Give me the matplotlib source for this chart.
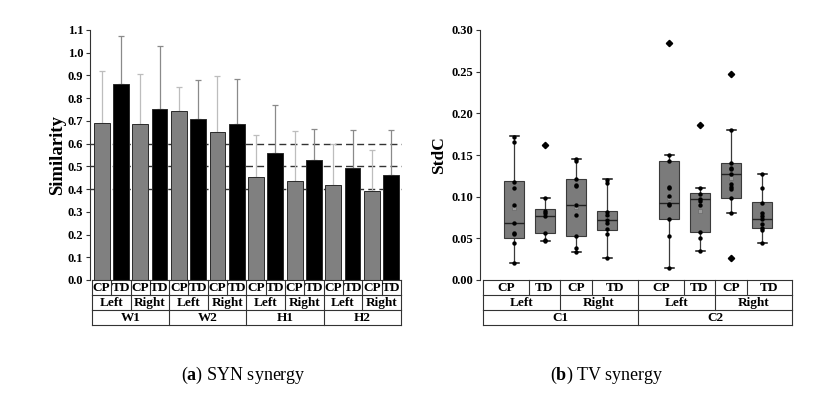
import numpy as np
import matplotlib
matplotlib.use("Agg")
import matplotlib.pyplot as plt
import matplotlib.transforms as mtransforms

plt.rcParams['font.family'] = ['Liberation Serif', 'DejaVu Serif']
plt.rcParams['mathtext.fontset'] = 'custom'
plt.rcParams['mathtext.rm'] = 'Liberation Serif'
plt.rcParams['mathtext.bf'] = 'Liberation Serif:bold'

# ---- (a) SYN synergy: mean similarity and SD per bar ----
muscles = ['W1', 'W2', 'H1', 'H2']
sides = ['Left', 'Right']
groups = ['CP', 'TD']
syn_mean = [0.689, 0.864, 0.688, 0.751,
            0.742, 0.707, 0.651, 0.688,
            0.452, 0.557, 0.437, 0.528,
            0.419, 0.491, 0.393, 0.463]
syn_sd = [0.231, 0.211, 0.217, 0.279,
          0.107, 0.173, 0.247, 0.195,
          0.185, 0.215, 0.217, 0.135,
          0.181, 0.169, 0.180, 0.197]
ref_lines = [0.4, 0.5, 0.6]

# ---- (b) TV synergy: box statistics and individual points ----
tv_labels = ['C1 Left CP', 'C1 Left TD', 'C1 Right CP', 'C1 Right TD',
             'C2 Left CP', 'C2 Left TD', 'C2 Right CP', 'C2 Right TD']
tv_q1 = [0.051, 0.057, 0.053, 0.060, 0.073, 0.058, 0.098, 0.063]
tv_med = [0.069, 0.077, 0.090, 0.072, 0.093, 0.097, 0.127, 0.073]
tv_q3 = [0.119, 0.085, 0.121, 0.083, 0.143, 0.104, 0.141, 0.094]
tv_lo = [0.021, 0.047, 0.034, 0.027, 0.014, 0.035, 0.081, 0.045]
tv_hi = [0.173, 0.099, 0.145, 0.121, 0.150, 0.110, 0.180, 0.127]
tv_mean = [0.086, 0.080, 0.088, 0.076, 0.098, 0.083, 0.122, 0.079]
tv_out = [[], [0.162], [], [], [0.285], [0.186], [0.247, 0.026], []]
tv_points = [
    [0.172, 0.166, 0.118, 0.110, 0.090, 0.068, 0.057, 0.055, 0.045, 0.021],
    [0.099, 0.083, 0.080, 0.077, 0.057, 0.048, 0.047],
    [0.145, 0.143, 0.121, 0.114, 0.113, 0.090, 0.078, 0.053, 0.038, 0.034],
    [0.120, 0.117, 0.082, 0.078, 0.072, 0.068, 0.061, 0.055, 0.027],
    [0.150, 0.143, 0.112, 0.110, 0.101, 0.091, 0.090, 0.073, 0.053, 0.014],
    [0.110, 0.103, 0.097, 0.095, 0.090, 0.058, 0.050, 0.035],
    [0.180, 0.141, 0.134, 0.133, 0.127, 0.115, 0.112, 0.109, 0.098, 0.081],
    [0.127, 0.110, 0.093, 0.080, 0.077, 0.073, 0.067, 0.063, 0.060, 0.045],
]
tv_pos = [34, 65, 96, 127, 189, 220, 251, 282]
tv_row1 = [3, 49, 80, 112, 158, 204, 235, 267, 312]
tv_row2 = [3, 80, 158, 235, 312]
tv_row3 = [3, 158, 312]
tv_conds = ['C1', 'C2']

fig = plt.figure(figsize=(8.34, 3.94), dpi=100)
axa = fig.add_axes([90 / 834, 114 / 394, 312 / 834, 250 / 394])
axb = fig.add_axes([480 / 834, 114 / 394, 312 / 834, 250 / 394])

tick_font = dict(fontsize=9, fontweight='bold')
row_h = 15 / 250


def draw_table(ax, rows, fs):
    # rows: list of (boundaries, labels) from top to bottom
    tr = mtransforms.blended_transform_factory(ax.transData, ax.transAxes)
    left, right = rows[0][0][0], rows[0][0][-1]
    for r, (bounds, labels) in enumerate(rows):
        y0, y1 = -r * row_h, -(r + 1) * row_h
        ax.plot([left, right], [y1, y1], color='#333333', lw=0.8,
                transform=tr, clip_on=False)
        for b in bounds:
            ax.plot([b, b], [y0, y1], color='#333333', lw=0.8,
                    transform=tr, clip_on=False)
        for k, lab in enumerate(labels):
            ax.text((bounds[k] + bounds[k + 1]) / 2, (y0 + y1) / 2 - 0.003, lab,
                    transform=tr, ha='center', va='center', fontsize=fs,
                    fontweight='bold', clip_on=False)
    ax.plot([left, right], [0, 0], color='#333333', lw=0.8,
            transform=tr, clip_on=False)


# ---------- panel (a) ----------
x = np.arange(len(syn_mean))
colors = ['#808080' if i % 2 == 0 else 'black' for i in x]
err_cols = ['#bdbdbd' if i % 2 == 0 else '#8a8a8a' for i in x]
for yv in ref_lines:
    axa.axhline(yv, color='#333333', lw=1.0, ls=(0, (5, 3)), zorder=0)
for i in x:
    axa.errorbar(i, syn_mean[i], yerr=[[0], [syn_sd[i]]], fmt='none',
                 ecolor=err_cols[i], elinewidth=0.9, capsize=2, capthick=0.9,
                 zorder=1)
axa.bar(x, syn_mean, width=0.82, color=colors, edgecolor='#2a2a2a',
        linewidth=0.7, zorder=2)
axa.set_xlim(-0.6, 15.56)
axa.set_ylim(0, 1.1)
axa.set_yticks(np.arange(0, 1.11, 0.1))
axa.set_yticklabels([f'{v:.1f}' for v in np.arange(0, 1.11, 0.1)], **tick_font)
axa.set_xticks([])
for s in ['top', 'right', 'bottom']:
    axa.spines[s].set_visible(False)
axa.spines['left'].set_color('#333333')
axa.tick_params(axis='y', length=3, width=0.8, color='#333333', pad=2)
axa.set_ylabel('Similarity', fontsize=13.5, fontweight='bold', labelpad=1)

b1 = [i - 0.5 for i in range(17)]
b2 = [i - 0.5 for i in range(0, 17, 2)]
b3 = [i - 0.5 for i in range(0, 17, 4)]
draw_table(axa, [(b1, groups * 8), (b2, sides * 4), (b3, muscles)], 9.5)

# ---------- panel (b) ----------
stats = []
for k in range(len(tv_labels)):
    stats.append(dict(label=tv_labels[k], q1=tv_q1[k], med=tv_med[k],
                      q3=tv_q3[k], whislo=tv_lo[k], whishi=tv_hi[k],
                      mean=tv_mean[k], fliers=tv_out[k]))
axb.bxp(stats, positions=tv_pos, widths=20, capwidths=9, patch_artist=True,
        showmeans=True, showfliers=True,
        boxprops=dict(facecolor='#7b7b7b', edgecolor='#3a3a3a', linewidth=0.8),
        medianprops=dict(color='#222222', linewidth=1.0),
        whiskerprops=dict(color='#3a3a3a', linewidth=0.9),
        capprops=dict(color='#111111', linewidth=1.1),
        meanprops=dict(marker='s', markersize=3, markerfacecolor='#9a9a9a',
                       markeredgecolor='#6a6a6a', markeredgewidth=0.5),
        flierprops=dict(marker='D', markersize=3.2, markerfacecolor='black',
                        markeredgecolor='black'))
for k, pts in enumerate(tv_points):
    axb.scatter([tv_pos[k]] * len(pts), pts, s=10, color='black', zorder=4,
                linewidths=0)
axb.set_xlim(0, 312)
axb.set_ylim(0, 0.30)
axb.set_yticks(np.arange(0, 0.301, 0.05))
axb.set_yticklabels([f'{v:.2f}' for v in np.arange(0, 0.301, 0.05)], **tick_font)
axb.set_xticks([])
for s in ['top', 'right', 'bottom']:
    axb.spines[s].set_visible(False)
axb.spines['left'].set_color('#333333')
axb.tick_params(axis='y', length=3, width=0.8, color='#333333', pad=2)
axb.set_ylabel('StdC', fontsize=12.5, fontweight='bold', labelpad=3)

draw_table(axb, [(tv_row1, groups * 4), (tv_row2, sides * 2), (tv_row3, tv_conds)], 9.5)

# captions
fig.text(243 / 834, 1 - 375 / 394, r'($\mathbf{a}$) SYN synergy', ha='center',
         va='center', fontsize=13)
fig.text(607 / 834, 1 - 375 / 394, r'($\mathbf{b}$) TV synergy', ha='center',
         va='center', fontsize=13)

fig.savefig('out.png', dpi=100)
